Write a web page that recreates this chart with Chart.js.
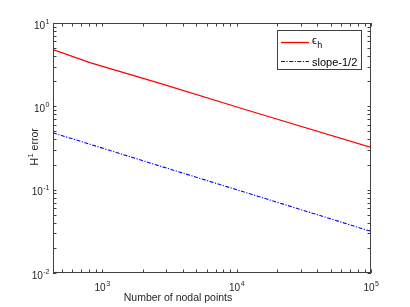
<!DOCTYPE html>
<html>
<head>
<meta charset="utf-8">
<script src="https://cdn.jsdelivr.net/npm/chart.js@4"></script>
<style>
  html, body { margin: 0; padding: 0; background: #fff; }
  #wrap { width: 410px; height: 307px; }
</style>
</head>
<body>
<div id="wrap"><canvas id="errChart" width="410" height="307"></canvas></div>
<script>
// values
const nodes = [432, 813, 2700, 12600, 100000];
const errH = [4.81, 3.34, 1.88, 0.879, 0.321];
const slopeRef = [0.481, 0.351, 0.192, 0.0891, 0.0316];
const seriesNames = [['\u03f5', 'h'], ['slope-1/2', '']];

const xTicks = [1e3, 1e4, 1e5];
const yTicks = [0.01, 0.1, 1, 10];

const axisColor = '#404040';
const textColor = '#262626';
const fontFam = '"Liberation Sans", Arial, sans-serif';

// draws base text plus a raised (shift<0) or lowered (shift>0) small part
function drawScript(ctx, base, small, x, y, align, size, smallSize, shift) {
  ctx.font = size + 'px ' + fontFam;
  const wb = ctx.measureText(base).width;
  ctx.font = smallSize + 'px ' + fontFam;
  const ws = ctx.measureText(small).width;
  let x0 = x;
  if (align === 'center') x0 = x - (wb + ws) / 2;
  if (align === 'right') x0 = x - wb - ws;
  ctx.textAlign = 'left';
  ctx.textBaseline = 'alphabetic';
  ctx.font = size + 'px ' + fontFam;
  ctx.fillText(base, x0, y);
  ctx.font = smallSize + 'px ' + fontFam;
  ctx.fillText(small, x0 + wb + 0.5, y + shift);
}

const expOf = v => String(Math.round(Math.log10(v)));

// box, inward ticks, tick labels, axis titles and legend in matlab style
const matlabAxes = {
  id: 'matlabAxes',
  afterDraw(chart) {
    const { ctx, chartArea: a, scales } = chart;
    const xs = scales.x, ys = scales.y;
    const tl = 3.5;
    ctx.save();
    ctx.strokeStyle = axisColor;
    ctx.lineWidth = 1;
    ctx.strokeRect(a.left + 0.5, a.top + 0.5, a.right - a.left - 1, a.bottom - a.top - 1);

    ctx.beginPath();
    for (let e = 2; e <= 5; e++) {
      for (let k = 1; k <= 9; k++) {
        const v = k * Math.pow(10, e);
        if (v < xs.min || v > xs.max) continue;
        const px = Math.round(xs.getPixelForValue(v)) + 0.5;
        ctx.moveTo(px, a.bottom); ctx.lineTo(px, a.bottom - tl);
        ctx.moveTo(px, a.top); ctx.lineTo(px, a.top + tl);
      }
    }
    for (let e = -2; e <= 1; e++) {
      for (let k = 1; k <= 9; k++) {
        const v = k * Math.pow(10, e);
        if (v < ys.min - 1e-9 || v > ys.max + 1e-9) continue;
        const py = Math.round(ys.getPixelForValue(v)) + 0.5;
        ctx.moveTo(a.left, py); ctx.lineTo(a.left + tl, py);
        ctx.moveTo(a.right, py); ctx.lineTo(a.right - tl, py);
      }
    }
    ctx.stroke();

    // tick labels
    ctx.fillStyle = textColor;
    xTicks.forEach(v => {
      drawScript(ctx, '10', expOf(v), xs.getPixelForValue(v), a.bottom + 18, 'center', 10, 7, -5);
    });
    yTicks.forEach(v => {
      drawScript(ctx, '10', expOf(v), a.left - 4, ys.getPixelForValue(v) + 5.5, 'right', 10, 7, -5);
    });

    // axis titles
    drawScript(ctx, 'Number of nodal points', '', 178, 301, 'center', 10.5, 7, 0);
    ctx.save();
    ctx.translate(38, 147);
    ctx.rotate(-Math.PI / 2);
    ctx.font = '10.5px ' + fontFam;
    const w1 = ctx.measureText('H').width;
    ctx.font = '7.5px ' + fontFam;
    const w2 = ctx.measureText('1').width;
    ctx.font = '10.5px ' + fontFam;
    const w3 = ctx.measureText(' error').width;
    let x0 = -(w1 + w2 + w3) / 2;
    ctx.textAlign = 'left';
    ctx.textBaseline = 'alphabetic';
    ctx.fillText('H', x0, 0);
    ctx.font = '7.5px ' + fontFam;
    ctx.fillText('1', x0 + w1 + 0.3, -5);
    ctx.font = '10.5px ' + fontFam;
    ctx.fillText(' error', x0 + w1 + w2 + 0.3, 0);
    ctx.restore();

    // legend
    const lx = 277, ly = 30, lw = 85, lh = 40;
    ctx.fillStyle = '#fff';
    ctx.fillRect(lx, ly, lw, lh);
    ctx.strokeStyle = axisColor;
    ctx.lineWidth = 1;
    ctx.strokeRect(lx + 0.5, ly + 0.5, lw - 1, lh - 1);
    chart.data.datasets.forEach((ds, i) => {
      const y = ly + 12.5 + i * 19;
      ctx.strokeStyle = ds.borderColor;
      ctx.lineWidth = ds.borderWidth;
      ctx.setLineDash(ds.borderDash || []);
      ctx.beginPath();
      ctx.moveTo(lx + 4, y); ctx.lineTo(lx + 32, y);
      ctx.stroke();
      ctx.setLineDash([]);
      ctx.fillStyle = '#000';
      const parts = seriesNames[i];
      drawScript(ctx, parts[0], parts[1], lx + 35, y + (parts[1] ? 1 : 4), 'left', 11, 9, 4);
    });
    ctx.restore();
  }
};

new Chart(document.getElementById('errChart'), {
  type: 'line',
  data: {
    labels: nodes,
    datasets: [
      {
        label: seriesNames[0].join(''),
        data: nodes.map((n, i) => ({ x: n, y: errH[i] })),
        borderColor: '#ff0000',
        borderWidth: 1.3,
        pointRadius: 0,
        fill: false,
        tension: 0
      },
      {
        label: seriesNames[1].join(''),
        data: nodes.map((n, i) => ({ x: n, y: slopeRef[i] })),
        borderColor: '#0000ff',
        borderWidth: 1.1,
        borderDash: [4, 1.5, 1.2, 1.5],
        pointRadius: 0,
        fill: false,
        tension: 0
      }
    ]
  },
  options: {
    responsive: false,
    animation: false,
    layout: { padding: { top: 23, right: 39, left: 0, bottom: 0 } },
    plugins: { legend: { display: false }, tooltip: { enabled: false } },
    scales: {
      x: {
        type: 'logarithmic',
        min: 432,
        max: 100000,
        afterBuildTicks: s => { s.ticks = xTicks.map(v => ({ value: v })); },
        afterFit: s => { s.height = 34; },
        grid: { display: false, drawTicks: false, tickLength: 0 },
        border: { display: false },
        ticks: { display: false }
      },
      y: {
        type: 'logarithmic',
        min: 0.01,
        max: 10,
        afterBuildTicks: s => { s.ticks = yTicks.map(v => ({ value: v })); },
        afterFit: s => { s.width = 53; },
        grid: { display: false, drawTicks: false, tickLength: 0 },
        border: { display: false },
        ticks: { display: false }
      }
    }
  },
  plugins: [matlabAxes]
});
</script>
</body>
</html>
